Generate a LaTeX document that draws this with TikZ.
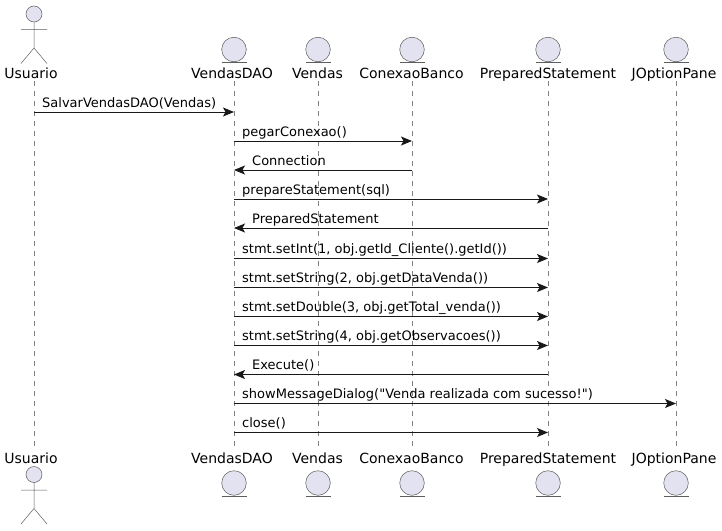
\documentclass[tikz,border=0pt]{standalone}
\usepackage{fontspec}
\newfontfamily\plainsans{DejaVu Sans}
\usetikzlibrary{arrows.meta}
\definecolor{partfill}{HTML}{E2E2F0}
\definecolor{ink}{HTML}{181818}
\tikzset{x=1pt,y=-1pt,
  partname/.style={font=\plainsans\fontsize{14pt}{16pt}\selectfont,inner sep=0pt,text=black,anchor=center},
  lifeline/.style={draw=ink!55,line width=0.5pt,dash pattern=on 5pt off 5pt},
  shapeline/.style={draw=ink!70,line width=0.5pt},
  shapefill/.style={shapeline,fill=partfill},
  msgline/.style={draw=ink,line width=1pt,-{Stealth[length=11pt,width=9pt,inset=2.5pt]}},
  msgtext/.style={font=\plainsans\fontsize{13pt}{15pt}\selectfont,inner sep=0pt,text=black,anchor=base west}}
\newcommand{\actorfig}[2]{% x, head centre y
  \draw[shapefill] (#1,#2) circle[radius=8];
  \draw[shapeline] (#1,#2+8) -- (#1,#2+34) (#1-13,#2+15.5) -- (#1+13,#2+15.5)
    (#1-13,#2+49.5) -- (#1,#2+34) -- (#1+13,#2+49.5);}
\newcommand{\entityfig}[2]{% x, circle centre y
  \draw[shapefill] (#1,#2) circle[radius=12.3];
  \draw[shapeline] (#1-12.5,#2+13.2) -- (#1+12.5,#2+13.2);}
\newcommand{\lifepart}[4]{% name, lifeline x, label x, text
  \coordinate (#1) at (#2,0);
  \draw[lifeline] (#1 |- 0,81) -- (#1 |- 0,446);
  \node[partname,anchor=base] (#1top) at (#3,78.5) {#4};
  \node[partname,anchor=base] (#1bot) at (#3,463.5) {#4};}
\newcommand{\msgr}[4]{% from, to, y, label
  \draw[msgline] (#1 |- 0,#3) -- (#2 |- 0,#3);
  \path (#1 |- 0,#3) ++(8,-4.7) node[msgtext] {#4};}
\newcommand{\msgl}[4]{% from (right), to (left), y, label
  \draw[msgline] (#1 |- 0,#3) -- (#2 |- 0,#3);
  \path (#2 |- 0,#3) ++(18,-4.7) node[msgtext] {#4};}
\begin{document}
\begin{tikzpicture}
\useasboundingbox (0,0) rectangle (722,530);
\lifepart{us}{34}{31}{Usuario}
\lifepart{vd}{234}{232}{VendasDAO}
\lifepart{ve}{318}{317.5}{Vendas}
\lifepart{cb}{412}{411.5}{ConexaoBanco}
\lifepart{ps}{548}{548}{PreparedStatement}
\lifepart{jo}{676}{674}{JOptionPane}
\actorfig{34}{14}
\actorfig{34}{474.5}
\foreach \x in {234,318,412,548,676}{
  \entityfig{\x}{49.5}
  \entityfig{\x}{483}
}
\msgr{us}{vd}{112}{SalvarVendasDAO(Vendas)}
\msgr{vd}{cb}{141}{pegarConexao()}
\msgl{cb}{vd}{170}{Connection}
\msgr{vd}{ps}{199}{prepareStatement(sql)}
\msgl{ps}{vd}{228}{PreparedStatement}
\msgr{vd}{ps}{258.5}{stmt.setInt(1, obj.getId\_Cliente().getId())}
\msgr{vd}{ps}{287.5}{stmt.setString(2, obj.getDataVenda())}
\msgr{vd}{ps}{316.5}{stmt.setDouble(3, obj.getTotal\_venda())}
\msgr{vd}{ps}{345.5}{stmt.setString(4, obj.getObservacoes())}
\msgl{ps}{vd}{374.5}{Execute()}
\msgr{vd}{jo}{403.5}{showMessageDialog("Venda realizada com sucesso!")}
\msgr{vd}{ps}{432.5}{close()}
\end{tikzpicture}
\end{document}
